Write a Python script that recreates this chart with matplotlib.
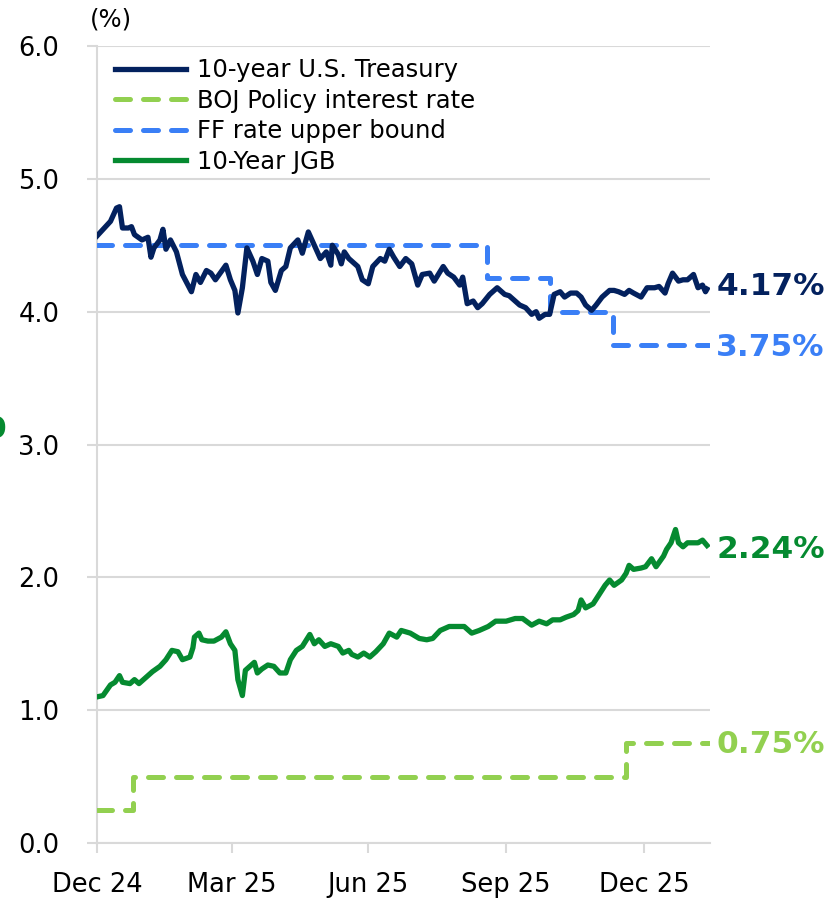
import matplotlib.pyplot as plt
import matplotlib.transforms as mtransforms
import pandas as pd

ust_dates = [
    "2024-12-31", "2025-01-09", "2025-01-13", "2025-01-15", "2025-01-17", "2025-01-21",
    "2025-01-23", "2025-01-25", "2025-01-30", "2025-02-03", "2025-02-05", "2025-02-07",
    "2025-02-11", "2025-02-13", "2025-02-15", "2025-02-18", "2025-02-22", "2025-02-26",
    "2025-03-04", "2025-03-07", "2025-03-10", "2025-03-14", "2025-03-17", "2025-03-20",
    "2025-03-27", "2025-03-30", "2025-04-02", "2025-04-04", "2025-04-07", "2025-04-10",
    "2025-04-14", "2025-04-17", "2025-04-20", "2025-04-24", "2025-04-26", "2025-04-29",
    "2025-05-03", "2025-05-06", "2025-05-09", "2025-05-14", "2025-05-17", "2025-05-21",
    "2025-05-25", "2025-05-29", "2025-06-02", "2025-06-05", "2025-06-06", "2025-06-10",
    "2025-06-12", "2025-06-14", "2025-06-17", "2025-06-23", "2025-06-26", "2025-06-30",
    "2025-07-03", "2025-07-08", "2025-07-11", "2025-07-14", "2025-07-17", "2025-07-21",
    "2025-07-25", "2025-07-29", "2025-08-02", "2025-08-05", "2025-08-10", "2025-08-13",
    "2025-08-19", "2025-08-22", "2025-08-26", "2025-08-30", "2025-09-01", "2025-09-04",
    "2025-09-08", "2025-09-11", "2025-09-14", "2025-09-19", "2025-09-24", "2025-09-29",
    "2025-10-02", "2025-10-09", "2025-10-13", "2025-10-17", "2025-10-20", "2025-10-22",
    "2025-10-26", "2025-10-29", "2025-11-01", "2025-11-05", "2025-11-08", "2025-11-12",
    "2025-11-16", "2025-11-19", "2025-11-22", "2025-11-26", "2025-11-29", "2025-12-03",
    "2025-12-08", "2025-12-11", "2025-12-14", "2025-12-18", "2025-12-21", "2025-12-24",
    "2025-12-29", "2026-01-02", "2026-01-07", "2026-01-10", "2026-01-14", "2026-01-16",
    "2026-01-19", "2026-01-23", "2026-01-26", "2026-01-29", "2026-02-02", "2026-02-05",
    "2026-02-08", "2026-02-10", "2026-02-11",
]
ust_values = [
    4.57, 4.68, 4.78, 4.79, 4.63, 4.63,
    4.64, 4.58, 4.54, 4.56, 4.41, 4.48,
    4.54, 4.62, 4.47, 4.54, 4.45, 4.28,
    4.15, 4.28, 4.22, 4.31, 4.29, 4.24,
    4.35, 4.24, 4.16, 3.99, 4.18, 4.48,
    4.38, 4.28, 4.40, 4.38, 4.22, 4.16,
    4.31, 4.34, 4.48, 4.54, 4.44, 4.60,
    4.50, 4.40, 4.45, 4.35, 4.50, 4.43,
    4.36, 4.45, 4.40, 4.34, 4.24, 4.21,
    4.34, 4.40, 4.38, 4.47, 4.41, 4.34,
    4.40, 4.36, 4.20, 4.28, 4.29, 4.23,
    4.34, 4.29, 4.26, 4.20, 4.26, 4.06,
    4.08, 4.03, 4.06, 4.13, 4.18, 4.13,
    4.12, 4.05, 4.03, 3.98, 4.00, 3.95,
    3.98, 3.98, 4.13, 4.15, 4.11, 4.14,
    4.14, 4.11, 4.05, 4.01, 4.05, 4.11,
    4.16, 4.16, 4.15, 4.13, 4.16, 4.14,
    4.11, 4.18, 4.18, 4.19, 4.14, 4.21,
    4.29, 4.23, 4.24, 4.24, 4.28, 4.18,
    4.20, 4.15, 4.17,
]

jgb_dates = [
    "2024-12-31", "2025-01-04", "2025-01-09", "2025-01-12", "2025-01-15", "2025-01-17",
    "2025-01-22", "2025-01-25", "2025-01-28", "2025-02-02", "2025-02-06", "2025-02-11",
    "2025-02-15", "2025-02-19", "2025-02-23", "2025-02-26", "2025-03-03", "2025-03-05",
    "2025-03-06", "2025-03-09", "2025-03-11", "2025-03-15", "2025-03-19", "2025-03-24",
    "2025-03-27", "2025-03-30", "2025-04-02", "2025-04-04", "2025-04-07", "2025-04-09",
    "2025-04-13", "2025-04-15", "2025-04-17", "2025-04-20", "2025-04-24", "2025-04-28",
    "2025-05-02", "2025-05-06", "2025-05-09", "2025-05-13", "2025-05-17", "2025-05-22",
    "2025-05-25", "2025-05-28", "2025-06-01", "2025-06-05", "2025-06-10", "2025-06-13",
    "2025-06-17", "2025-06-19", "2025-06-23", "2025-06-27", "2025-07-01", "2025-07-05",
    "2025-07-10", "2025-07-14", "2025-07-19", "2025-07-22", "2025-07-28", "2025-08-03",
    "2025-08-08", "2025-08-12", "2025-08-17", "2025-08-23", "2025-08-29", "2025-09-02",
    "2025-09-07", "2025-09-12", "2025-09-18", "2025-09-23", "2025-09-30", "2025-10-06",
    "2025-10-11", "2025-10-17", "2025-10-22", "2025-10-27", "2025-10-31", "2025-11-05",
    "2025-11-09", "2025-11-14", "2025-11-17", "2025-11-19", "2025-11-22", "2025-11-27",
    "2025-12-01", "2025-12-05", "2025-12-08", "2025-12-11", "2025-12-16", "2025-12-19",
    "2025-12-21", "2025-12-24", "2025-12-29", "2026-01-01", "2026-01-05", "2026-01-08",
    "2026-01-13", "2026-01-15", "2026-01-18", "2026-01-21", "2026-01-23", "2026-01-26",
    "2026-01-29", "2026-02-02", "2026-02-05", "2026-02-08", "2026-02-11",
]
jgb_values = [
    1.10, 1.11, 1.19, 1.21, 1.26, 1.21,
    1.20, 1.23, 1.20, 1.25, 1.29, 1.33,
    1.38, 1.45, 1.44, 1.38, 1.40, 1.47,
    1.55, 1.58, 1.53, 1.52, 1.52, 1.55,
    1.59, 1.50, 1.45, 1.23, 1.11, 1.30,
    1.34, 1.36, 1.28, 1.31, 1.34, 1.33,
    1.28, 1.28, 1.38, 1.45, 1.48, 1.57,
    1.50, 1.53, 1.48, 1.50, 1.48, 1.43,
    1.45, 1.42, 1.40, 1.43, 1.40, 1.44,
    1.50, 1.58, 1.55, 1.60, 1.58, 1.54,
    1.53, 1.54, 1.60, 1.63, 1.63, 1.63,
    1.58, 1.60, 1.63, 1.67, 1.67, 1.69,
    1.69, 1.64, 1.67, 1.65, 1.68, 1.68,
    1.70, 1.72, 1.75, 1.83, 1.77, 1.80,
    1.87, 1.94, 1.98, 1.94, 1.98, 2.03,
    2.09, 2.06, 2.07, 2.08, 2.14, 2.08,
    2.16, 2.21, 2.26, 2.36, 2.26, 2.23,
    2.26, 2.26, 2.26, 2.28, 2.24,
]

ff_dates = ["2024-12-31", "2025-09-17", "2025-10-29", "2025-12-10", "2026-02-12"]
ff_values = [4.50, 4.25, 4.00, 3.75, 3.75]

boj_dates = ["2024-12-31", "2025-01-24", "2025-12-19", "2026-02-12"]
boj_values = [0.25, 0.50, 0.75, 0.75]

tick_dates = ["2024-12-31", "2025-03-31", "2025-06-30", "2025-09-30", "2025-12-31"]
tick_labels = ["Dec 24", "Mar 25", "Jun 25", "Sep 25", "Dec 25"]

NAVY = "#03215e"
BLUE = "#3a7ff6"
LIGHT_GREEN = "#92d050"
GREEN = "#058a30"
GRID = "#d9d9d9"


def main():
    plt.rcParams['font.family'] = ['DejaVu Sans']
    fig = plt.figure(figsize=(8.31, 8.98), dpi=100)
    ax = fig.add_axes([97 / 831, 1 - 843 / 898, 613 / 831, 797 / 898])

    dash = dict(linestyle=(0, (3.0, 2.6)), dash_capstyle='round', linewidth=3.6)
    ax.plot(pd.to_datetime(ust_dates), ust_values, color=NAVY, lw=3.8,
            solid_joinstyle='round', label="10-year U.S. Treasury", zorder=4)
    ax.plot(pd.to_datetime(boj_dates), boj_values, color=LIGHT_GREEN,
            drawstyle='steps-post', label="BOJ Policy interest rate", zorder=3, **dash)
    ax.plot(pd.to_datetime(ff_dates), ff_values, color=BLUE,
            drawstyle='steps-post', label="FF rate upper bound", zorder=3, **dash)
    ax.plot(pd.to_datetime(jgb_dates), jgb_values, color=GREEN, lw=3.8,
            solid_joinstyle='round', label="10-Year JGB", zorder=4)

    ax.set_xlim(pd.Timestamp("2024-12-31"), pd.Timestamp("2026-02-13"))
    ax.set_ylim(0, 6)
    ax.set_yticks([0, 1, 2, 3, 4, 5, 6])
    ax.set_yticklabels([f"{v:.1f}" for v in range(7)])
    ax.set_xticks(pd.to_datetime(tick_dates))
    ax.set_xticklabels(tick_labels)
    ax.grid(axis='y', color=GRID, lw=1.5)
    ax.set_axisbelow(True)
    for side in ('top', 'right'):
        ax.spines[side].set_visible(False)
    for side in ('left', 'bottom'):
        ax.spines[side].set_color(GRID)
        ax.spines[side].set_linewidth(1.5)
    ax.tick_params(axis='y', length=7, width=1.5, color=GRID, pad=20,
                   labelsize=18.5, labelcolor='black')
    ax.tick_params(axis='x', length=7, width=1.5, color=GRID, pad=14,
                   labelsize=18.5, labelcolor='black')

    trans = mtransforms.blended_transform_factory(ax.transAxes, ax.transData)
    end_labels = [
        (ust_values[-1], NAVY, 4.19),
        (ff_values[-1], BLUE, 3.73),
        (jgb_values[-1], GREEN, 2.21),
        (boj_values[-1], LIGHT_GREEN, 0.74),
    ]
    for val, col, ypos in end_labels:
        ax.text(1.01, ypos, f"{val:.2f}%", transform=trans, color=col,
                fontsize=22.5, fontweight='bold', va='center', ha='left',
                clip_on=False)

    ax.legend(loc='upper left', bbox_to_anchor=(0.022, 0.991), frameon=False,
              fontsize=17.5, handlelength=2.9, handletextpad=0.45,
              labelspacing=0.27, borderpad=0.2, borderaxespad=0)

    fig.text(111 / 831, 1 - 20 / 898, "(%)", fontsize=17.5, ha='center', va='center')
    fig.text(6 / 831, 1 - 430 / 898, "0", fontsize=22.5, fontweight='bold',
             color=GREEN, ha='right', va='center')

    fig.savefig("out.png", dpi=100)


if __name__ == "__main__":
    main()
